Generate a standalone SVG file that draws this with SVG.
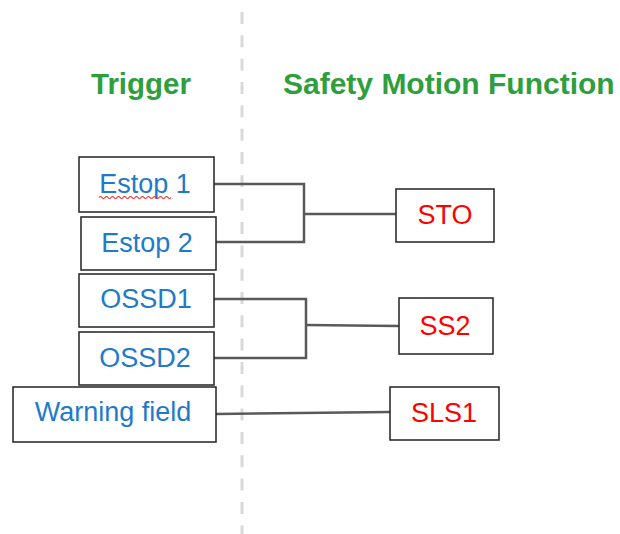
<svg xmlns="http://www.w3.org/2000/svg" width="620" height="534" viewBox="0 0 620 534">
<style>
.box{fill:#fff;stroke:#222;stroke-width:1.5}
.t{font-family:"Liberation Sans",Arial,sans-serif;font-size:27px;text-anchor:middle}
.trig{fill:#1f7ac8}
.fn{fill:#ff0000}
.title{font-family:"Liberation Sans",Arial,sans-serif;font-size:29.5px;font-weight:bold;fill:#2e9e3e}
.conn{fill:none;stroke:#595959;stroke-width:2.5}
</style>
<rect width="620" height="534" fill="#fff"/>
<line x1="242" y1="12" x2="242" y2="534" stroke="#d9d9d9" stroke-width="3" stroke-dasharray="12 11.33"/>
<text class="title" x="91" y="94">Trigger</text>
<text class="title" x="283" y="94" style="font-size:30px">Safety Motion Function</text>
<g id="connectors">
<polyline class="conn" points="214,184 304,184 304,242 216,242"/>
<line class="conn" x1="304" y1="214" x2="396" y2="214"/>
<polyline class="conn" points="214,299 306,299 306,358 214,358"/>
<line class="conn" x1="306" y1="325" x2="399" y2="326"/>
<line class="conn" x1="216" y1="414" x2="390" y2="412"/>
</g>
<g id="estop1">
<rect class="box" x="79" y="157" width="135" height="55"/>
<text class="t trig" x="145" y="193">Estop 1</text>
<path d="M99,197.5 q1.5,-2 3,0 t3,0 t3,0 t3,0 t3,0 t3,0 t3,0 t3,0 t3,0 t3,0 t3,0 t3,0 t3,0 t3,0 t3,0 t3,0 t3,0 t3,0 t3,0 t3,0 t3,0 t3,0 t3,0 t3,0" fill="none" stroke="#ff3030" stroke-width="1.2"/>
</g>
<g id="estop2">
<rect class="box" x="81" y="217" width="135" height="53"/>
<text class="t trig" x="147" y="252">Estop 2</text>
</g>
<g id="ossd1">
<rect class="box" x="79" y="274" width="135" height="53"/>
<text class="t trig" x="146" y="308">OSSD1</text>
</g>
<g id="ossd2">
<rect class="box" x="79" y="332" width="135" height="53"/>
<text class="t trig" x="145" y="367">OSSD2</text>
</g>
<g id="warning">
<rect class="box" x="13" y="387" width="203" height="55"/>
<text class="t trig" x="113" y="421">Warning field</text>
</g>
<g id="sto">
<rect class="box" x="396" y="189" width="98" height="53"/>
<text class="t fn" x="445" y="224">STO</text>
</g>
<g id="ss2">
<rect class="box" x="399" y="298" width="94" height="56"/>
<text class="t fn" x="445" y="335">SS2</text>
</g>
<g id="sls1">
<rect class="box" x="390" y="387" width="109" height="53"/>
<text class="t fn" x="444" y="422">SLS1</text>
</g>
</svg>
